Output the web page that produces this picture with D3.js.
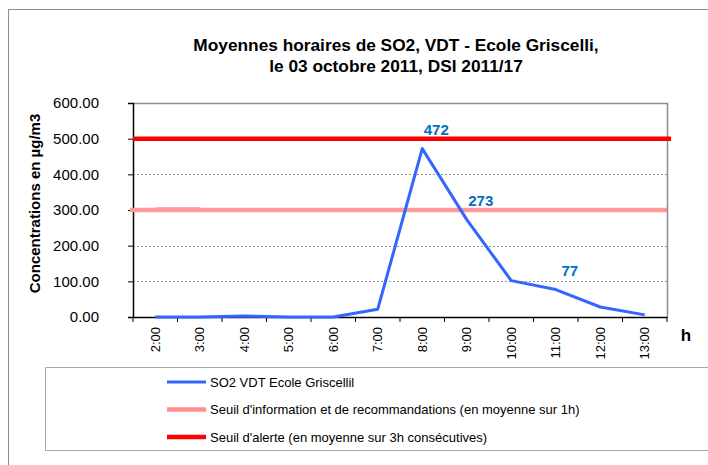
<!DOCTYPE html>
<html><head><meta charset="utf-8">
<script src="https://cdn.jsdelivr.net/npm/d3@7"></script>
<style>body{margin:0;background:#fff}svg{display:block;font-family:"Liberation Sans",Arial,sans-serif}</style>
</head><body><svg id="c" width="708" height="465"></svg>
<script>
const categories = ["2:00","3:00","4:00","5:00","6:00","7:00","8:00","9:00","10:00","11:00","12:00","13:00"];
const so2Values = [0, 0, 3, 0, 0, 22, 472, 273, 102, 77, 28, 6];
const infoThreshold = 300;
const alertThreshold = 500;
const infoBump = [{cat:"2:00", v:302},{cat:"3:00", v:302}];
const labelledPoints = ["8:00","9:00","11:00"];
const yTicks = [0,100,200,300,400,500,600];
const titleLines = ["Moyennes horaires de SO2, VDT - Ecole Griscelli,", "le 03 octobre 2011, DSI 2011/17"];
const legendItems = [
  {name:"SO2 VDT Ecole Griscellil", color:"#3366ff", w:3},
  {name:"Seuil d'information et de recommandations (en moyenne sur 1h)", color:"#ff8f8f", w:4.5},
  {name:"Seuil d'alerte (en moyenne sur 3h consécutives)", color:"#ff0000", w:4.5}
];

const svg = d3.select("#c");
const m = {l:133, t:103, r:667, b:317};

// outer frame
svg.append("path").attr("d","M8.5,470 V9.5 H720").attr("fill","none").attr("stroke","#8c8c8c").attr("stroke-width",1);

const x = d3.scaleBand().domain(categories).range([m.l, m.r]).padding(0);
const y = d3.scaleLinear().domain([0,600]).range([m.b, m.t]);
const cx = d => x(d) + x.bandwidth()/2;

// gridlines
svg.append("g").selectAll("line").data(yTicks.filter(t=>t>0 && t<600)).join("line")
  .attr("x1",m.l).attr("x2",m.r).attr("y1",d=>Math.round(y(d))+0.5).attr("y2",d=>Math.round(y(d))+0.5)
  .attr("stroke","#999").attr("stroke-dasharray","2,2").attr("stroke-width",1);

// plot border (top/right gray)
svg.append("path").attr("d",`M${m.l},${m.t+0.5} H${m.r+0.5} V${m.b}`).attr("fill","none").attr("stroke","#8c8c8c").attr("stroke-width",1.5);

// y axis
const ya = svg.append("g").attr("transform",`translate(${m.l},0)`)
  .call(d3.axisLeft(y).tickValues(yTicks).tickSize(5).tickPadding(29).tickFormat(d3.format(".2f")));
ya.select(".domain").attr("stroke","#000").attr("stroke-width",1.5);
ya.selectAll(".tick line").attr("stroke","#000");
ya.selectAll("text").attr("font-size",15).attr("fill","#000").attr("font-family","Liberation Sans, Arial, sans-serif");

// x axis
const xa = svg.append("g").attr("transform",`translate(0,${m.b})`)
  .call(d3.axisBottom(x).tickSize(0).tickPadding(0));
xa.select(".domain").attr("stroke","#000").attr("stroke-width",1.5);
xa.selectAll(".tick text").attr("font-size",13).attr("fill","#000").attr("font-family","Liberation Sans, Arial, sans-serif")
  .attr("transform","rotate(-90)").attr("text-anchor","end").attr("x",-10).attr("y",0).attr("dy","0.35em");
// boundary ticks
svg.append("g").selectAll("line").data(categories.concat(["end"])).join("line")
  .attr("x1",(d,i)=>m.l + i*x.bandwidth()).attr("x2",(d,i)=>m.l + i*x.bandwidth())
  .attr("y1",m.b).attr("y2",m.b+5).attr("stroke","#000");

// threshold lines
svg.append("line").attr("x1",m.l-3).attr("x2",m.r).attr("y1",y(infoThreshold)).attr("y2",y(infoThreshold))
  .attr("stroke","#ff9999").attr("stroke-width",4.5);
svg.append("path").datum(infoBump).attr("fill","none").attr("stroke","#ff9999").attr("stroke-width",4)
  .attr("d",d3.line().x(d=>cx(d.cat)).y(d=>y(d.v)));
svg.append("line").attr("x1",m.l).attr("x2",m.r+4).attr("y1",y(alertThreshold)).attr("y2",y(alertThreshold))
  .attr("stroke","#ff0000").attr("stroke-width",4.5);

// SO2 line
const pts = categories.map((c,i)=>({c, v:so2Values[i]}));
svg.append("path").datum(pts).attr("fill","none").attr("stroke","#3366ff").attr("stroke-width",3)
  .attr("stroke-linejoin","round")
  .attr("d",d3.line().x(d=>cx(d.c)).y(d=>y(d.v)));

// data labels
svg.append("g").selectAll("text").data(pts.filter(d=>labelledPoints.includes(d.c))).join("text")
  .attr("x",d=>cx(d.c)+14).attr("y",d=>y(d.v)-14).attr("text-anchor","middle")
  .attr("font-size",15).attr("font-weight","bold").attr("fill","#0070c0").text(d=>Math.round(d.v));

// h label
svg.append("text").attr("x",686).attr("y",341).attr("text-anchor","middle").attr("font-size",17).attr("font-weight","bold").text("h");

// title
svg.append("g").selectAll("text").data(titleLines).join("text")
  .attr("x",396).attr("y",(d,i)=>51+i*21).attr("text-anchor","middle")
  .attr("font-size",17.3).attr("font-weight","bold").attr("fill","#000").text(d=>d);

// y title
svg.append("text").attr("transform",`translate(39.5,203.5) rotate(-90)`).attr("text-anchor","middle")
  .attr("font-size",15).attr("font-weight","bold").text("Concentrations en µg/m3");

// legend
svg.append("path").attr("d","M720,367.5 H45.5 V450.5 H720").attr("fill","none").attr("stroke","#a6a6a6").attr("stroke-width",1);
const lg = svg.append("g").selectAll("g").data(legendItems).join("g")
  .attr("transform",(d,i)=>`translate(167,${382+i*27.5})`);
lg.append("line").attr("x1",0).attr("x2",39).attr("stroke",d=>d.color).attr("stroke-width",d=>d.w);
lg.append("text").attr("x",43).attr("dy","0.35em").attr("font-size",13).attr("fill","#000").text(d=>d.name);
</script></body></html>
